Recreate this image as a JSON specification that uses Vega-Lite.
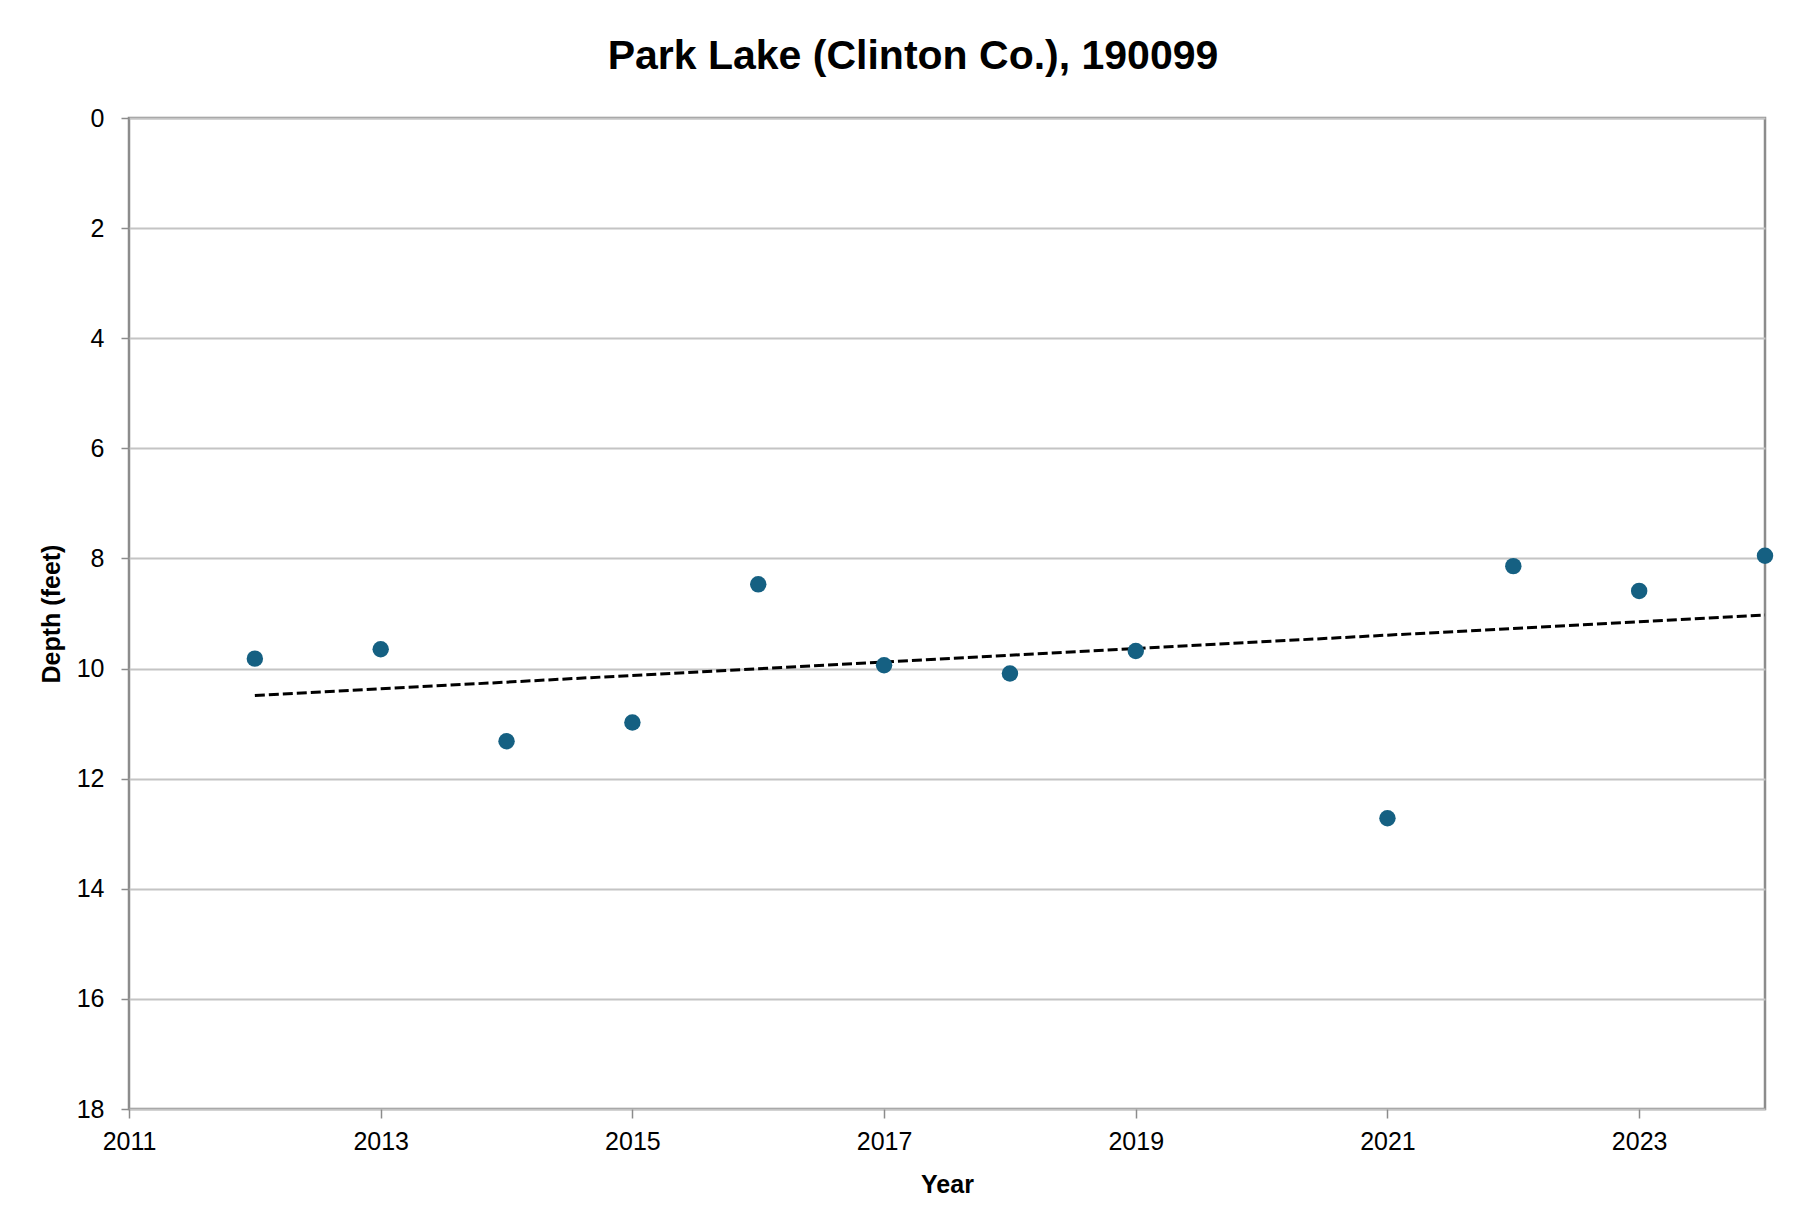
{
  "$schema": "https://vega.github.io/schema/vega-lite/v6.json",
  "width": 1636,
  "height": 991,
  "autosize": {"type": "none"},
  "padding": {"left": 129, "top": 118, "right": 54, "bottom": 120},
  "background": "white",
  "title": {
    "text": "Park Lake (Clinton Co.), 190099",
    "font": "Liberation Sans Narrow, Liberation Sans, sans-serif",
    "fontSize": 41,
    "fontWeight": "bold",
    "color": "#000000",
    "anchor": "middle",
    "frame": "group",
    "dx": -34,
    "offset": 28
  },
  "data": {
    "values": [
      {"year": 2012, "depth": 9.82},
      {"year": 2013, "depth": 9.65},
      {"year": 2014, "depth": 11.32},
      {"year": 2015, "depth": 10.98},
      {"year": 2016, "depth": 8.47},
      {"year": 2017, "depth": 9.94},
      {"year": 2018, "depth": 10.09},
      {"year": 2019, "depth": 9.68},
      {"year": 2021, "depth": 12.72},
      {"year": 2022, "depth": 8.14},
      {"year": 2023, "depth": 8.59},
      {"year": 2024, "depth": 7.95}
    ]
  },
  "encoding": {
    "x": {
      "field": "year",
      "type": "quantitative",
      "title": "Year",
      "scale": {"domain": [2011, 2024], "nice": false, "zero": false},
      "axis": {
        "values": [2011, 2013, 2015, 2017, 2019, 2021, 2023],
        "format": "d",
        "grid": false,
        "tickSize": 9,
        "tickColor": "#8c8c8c",
        "tickWidth": 1.5,
        "domain": false,
        "labelFlush": false,
        "labelOverlap": false,
        "labelPadding": 11,
        "titlePadding": 18
      }
    },
    "y": {
      "field": "depth",
      "type": "quantitative",
      "title": "Depth (feet)",
      "scale": {"domain": [0, 18], "nice": false, "reverse": true},
      "axis": {
        "values": [0, 2, 4, 6, 8, 10, 12, 14, 16, 18],
        "grid": true,
        "gridColor": "#c4c4c4",
        "gridWidth": 2,
        "tickSize": 8,
        "tickColor": "#8c8c8c",
        "tickWidth": 1.5,
        "domain": false,
        "labelFlush": false,
        "labelPadding": 17,
        "titlePadding": 12
      }
    }
  },
  "layer": [
    {
      "transform": [
        {"regression": "depth", "on": "year", "method": "linear", "extent": [2012, 2024]}
      ],
      "mark": {"type": "line", "color": "#000000", "strokeWidth": 3, "strokeDash": [10, 4]}
    },
    {
      "mark": {"type": "circle", "size": 270, "color": "#156082", "opacity": 1}
    }
  ],
  "config": {
    "view": {"stroke": "#8c8c8c", "strokeWidth": 2.5},
    "axis": {
      "labelFont": "Liberation Sans Narrow, Liberation Sans, sans-serif",
      "labelFontSize": 25,
      "labelColor": "#000000",
      "titleFont": "Liberation Sans Narrow, Liberation Sans, sans-serif",
      "titleFontSize": 25,
      "titleFontWeight": "bold",
      "titleColor": "#000000"
    }
  }
}
